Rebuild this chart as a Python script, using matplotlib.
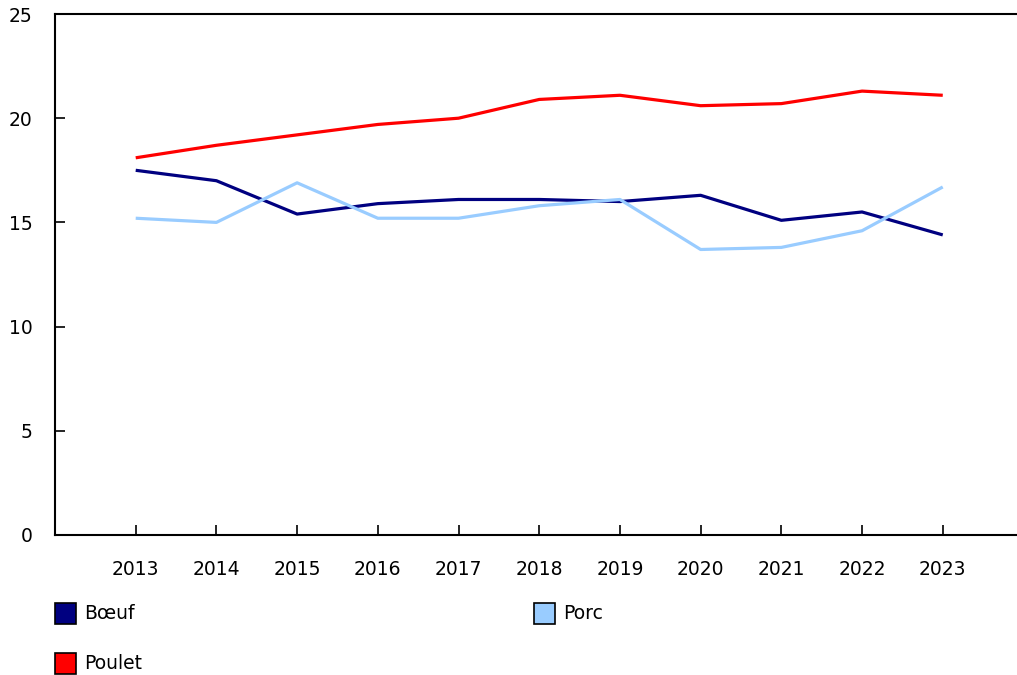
import matplotlib.pyplot as plt
from matplotlib.patches import Rectangle

years = [2013, 2014, 2015, 2016, 2017, 2018, 2019, 2020, 2021, 2022, 2023]
boeuf = [17.5, 17.0, 15.4, 15.9, 16.1, 16.1, 16.0, 16.3, 15.1, 15.5, 14.4]
porc = [15.2, 15.0, 16.9, 15.2, 15.2, 15.8, 16.1, 13.7, 13.8, 14.6, 16.7]
poulet = [18.1, 18.7, 19.2, 19.7, 20.0, 20.9, 21.1, 20.6, 20.7, 21.3, 21.1]

series = [("Bœuf", boeuf, "#000080"),
          ("Porc", porc, "#99ccff"),
          ("Poulet", poulet, "#ff0000")]

plt.rcParams['font.family'] = ['DejaVu Sans']
fs = 13.5

fig = plt.figure(figsize=(10.17, 6.75), dpi=100)
ax = fig.add_axes([55 / 1017, 140 / 675, 962 / 1017, 521 / 675])

for name, vals, col in series:
    ax.plot(years, vals, color=col, linewidth=2.3, solid_capstyle='butt')

ax.set_xlim(2012, 2023.92)
ax.set_ylim(0, 25)
ax.set_xticks(years)
ax.set_yticks([0, 5, 10, 15, 20, 25])

ax.spines['right'].set_visible(False)
for s in ['left', 'bottom', 'top']:
    ax.spines[s].set_linewidth(1.5)
ax.tick_params(axis='y', direction='in', length=7, width=1.2, pad=16, labelsize=fs)
ax.tick_params(axis='x', direction='in', length=7, width=1.2, pad=18, labelsize=fs)

# legend drawn by hand: two columns, two rows
for i, (name, vals, col) in enumerate(series):
    cx = 55 if i % 2 == 0 else 534
    cy = 675 - 624 - (i // 2) * 50
    fig.patches.append(Rectangle((cx / 1017, cy / 675), 21 / 1017, 21 / 675,
                                 transform=fig.transFigure, facecolor=col,
                                 edgecolor='black', linewidth=1.2))
    fig.text((cx + 29) / 1017, (cy + 10.5) / 675, name, fontsize=fs, va='center')

fig.savefig("out.png", dpi=100)
